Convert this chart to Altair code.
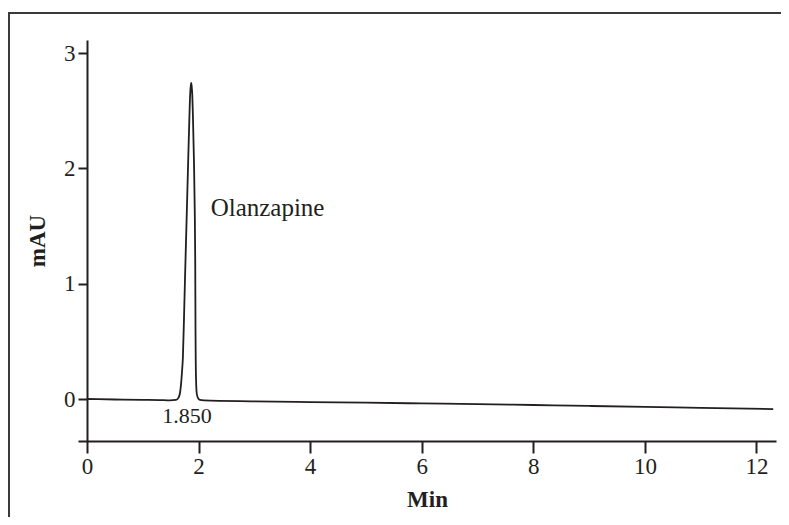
import altair as alt
import pandas as pd

# Chromatogram trace (time in min, absorbance in mAU)
time_min = [0.0, 0.5, 1.0, 1.3, 1.487, 1.595, 1.640, 1.667, 1.685, 1.703, 1.720,
            1.745, 1.762, 1.789, 1.815, 1.837, 1.851, 1.860, 1.869, 1.878, 1.887,
            1.900, 1.918, 1.932, 1.941, 1.946, 1.950, 1.957, 1.968, 1.989, 2.025,
            2.097, 3.0, 4.0, 5.0, 6.0, 7.0, 8.0, 9.0, 10.0, 11.0, 12.3]
signal_mau = [0.0, -0.004, -0.007, -0.009, -0.012, -0.008, 0.01, 0.05, 0.12, 0.23, 0.36,
              0.80, 1.12, 1.60, 2.07, 2.45, 2.65, 2.71, 2.74, 2.71, 2.65,
              2.45, 2.07, 1.65, 1.2, 0.6, 0.34, 0.15, 0.05, 0.01, -0.008,
              -0.012, -0.02, -0.027, -0.032, -0.038, -0.045, -0.052, -0.06, -0.068, -0.076, -0.087]

label_text = ["Olanzapine", "1.850"]
label_x = [2.217, 1.792]
label_y = [1.586, -0.205]
label_align = ["left", "center"]

x_ticks = [0, 2, 4, 6, 8, 10, 12]
y_ticks = [0, 1, 2, 3]

FONT = "Liberation Serif"
INK = "#231f20"

trace = pd.DataFrame({"t": time_min, "s": signal_mau})
labels = pd.DataFrame({"text": label_text, "x": label_x, "y": label_y, "align": label_align})

xscale = alt.Scale(domain=[-0.16, 12.35], nice=False, zero=False)
yscale = alt.Scale(domain=[-0.364, 3.113], nice=False, zero=False)

line = alt.Chart(trace).mark_line(color=INK, strokeWidth=1.8, interpolate="monotone").encode(
    x=alt.X("t:Q", scale=xscale,
            axis=alt.Axis(title="Min", values=x_ticks, format="d", tickSize=12,
                          labelPadding=2, titlePadding=10)),
    y=alt.Y("s:Q", scale=yscale,
            axis=alt.Axis(title="mAU", values=y_ticks, format="d", tickSize=9,
                          labelPadding=3, offset=-9, titlePadding=14)),
)

txt_left = alt.Chart(labels[labels["align"] == "left"]).mark_text(
    font=FONT, fontSize=25, color=INK, align="left", baseline="alphabetic"
).encode(x=alt.X("x:Q", scale=xscale), y=alt.Y("y:Q", scale=yscale), text="text:N")

txt_center = alt.Chart(labels[labels["align"] == "center"]).mark_text(
    font=FONT, fontSize=22, color=INK, align="center", baseline="alphabetic"
).encode(x=alt.X("x:Q", scale=xscale), y=alt.Y("y:Q", scale=yscale), text="text:N")

frame_v = alt.Chart(pd.DataFrame({"k": [0]})).mark_rule(color="#3a3a3a", strokeWidth=2).encode(
    x=alt.value(-69), y=alt.value(-27), y2=alt.value(700))
frame_h = alt.Chart(pd.DataFrame({"k": [0]})).mark_rule(color="#3a3a3a", strokeWidth=2).encode(
    x=alt.value(-70), x2=alt.value(900), y=alt.value(-27))

chart = alt.layer(frame_v, frame_h, line, txt_left, txt_center).properties(
    width=698, height=401,
    autosize=alt.AutoSizeParams(type="none"),
    padding={"left": 70, "top": 32, "right": 5, "bottom": 76},
    background="white",
).configure_view(stroke=None).configure_axis(
    grid=False,
    domainColor=INK, domainWidth=2,
    tickColor=INK, tickWidth=2,
    labelFont=FONT, labelFontSize=23, labelColor=INK,
    titleFont=FONT, titleFontSize=23, titleFontWeight="bold", titleColor=INK,
)

chart.save("out.html", embed_options={"renderer": "svg", "actions": False})
